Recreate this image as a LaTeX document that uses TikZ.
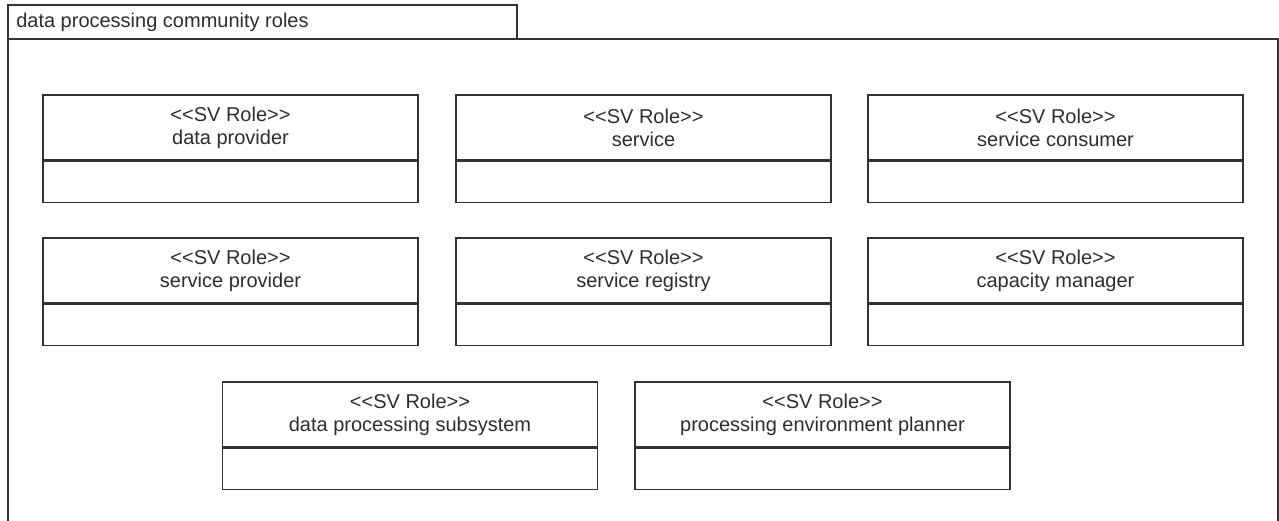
\documentclass[tikz,border=0pt]{standalone}
\usepackage{fontspec}
\setmainfont{Liberation Sans}
\usetikzlibrary{positioning}
\definecolor{umlline}{RGB}{50,50,50}
\definecolor{umltext}{RGB}{45,45,45}
\newcommand{\svrole}{<{}<SV Role>{}>}
\tikzset{
  frameline/.style={draw=umlline, line width=1.1pt},
  rolehead/.style={frameline, minimum width=281.25pt, minimum height=48.75pt,
    align=center, inner sep=0pt, text=umltext, font=\fontsize{15}{17.25}\selectfont},
  rolebody/.style={frameline, minimum width=281.25pt, minimum height=30.75pt, inner sep=0pt},
}
\begin{document}
\begin{tikzpicture}[x=0.75pt, y=-0.75pt]
    \useasboundingbox (0,0) rectangle (1279,521);
    % package frame
    \draw[frameline] (8,5) rectangle (517,39);
    \draw[frameline] (8,530) -- (8,39) -- (1278,39) -- (1278,530);
    \node[anchor=west, inner sep=0pt, text=umltext, font=\fontsize{15}{17.25}\selectfont] (pkg) at (16,22) {data processing community roles};
    % first row
    \node[rolehead] (provhead) at (230.5,127.5) {\svrole\\data provider};
    \node[rolebody, below=0pt of provhead] (provbody) {};
    \node[rolehead] (servhead) at (643.5,127.5) {\svrole\\service};
    \node[rolebody, below=0pt of servhead] (servbody) {};
    \node[rolehead] (conshead) at (1055.5,127.5) {\svrole\\service consumer};
    \node[rolebody, below=0pt of conshead] (consbody) {};
    % second row
    \node[rolehead] (sprovhead) at (230.5,270.5) {\svrole\\service provider};
    \node[rolebody, below=0pt of sprovhead] (sprovbody) {};
    \node[rolehead] (reghead) at (643.5,270.5) {\svrole\\service registry};
    \node[rolebody, below=0pt of reghead] (regbody) {};
    \node[rolehead] (caphead) at (1055.5,270.5) {\svrole\\capacity manager};
    \node[rolebody, below=0pt of caphead] (capbody) {};
    % third row
    \node[rolehead] (subhead) at (410,414.5) {\svrole\\data processing subsystem};
    \node[rolebody, below=0pt of subhead] (subbody) {};
    \node[rolehead] (planhead) at (822.5,414.5) {\svrole\\processing environment planner};
    \node[rolebody, below=0pt of planhead] (planbody) {};
  \end{tikzpicture}
\end{document}
